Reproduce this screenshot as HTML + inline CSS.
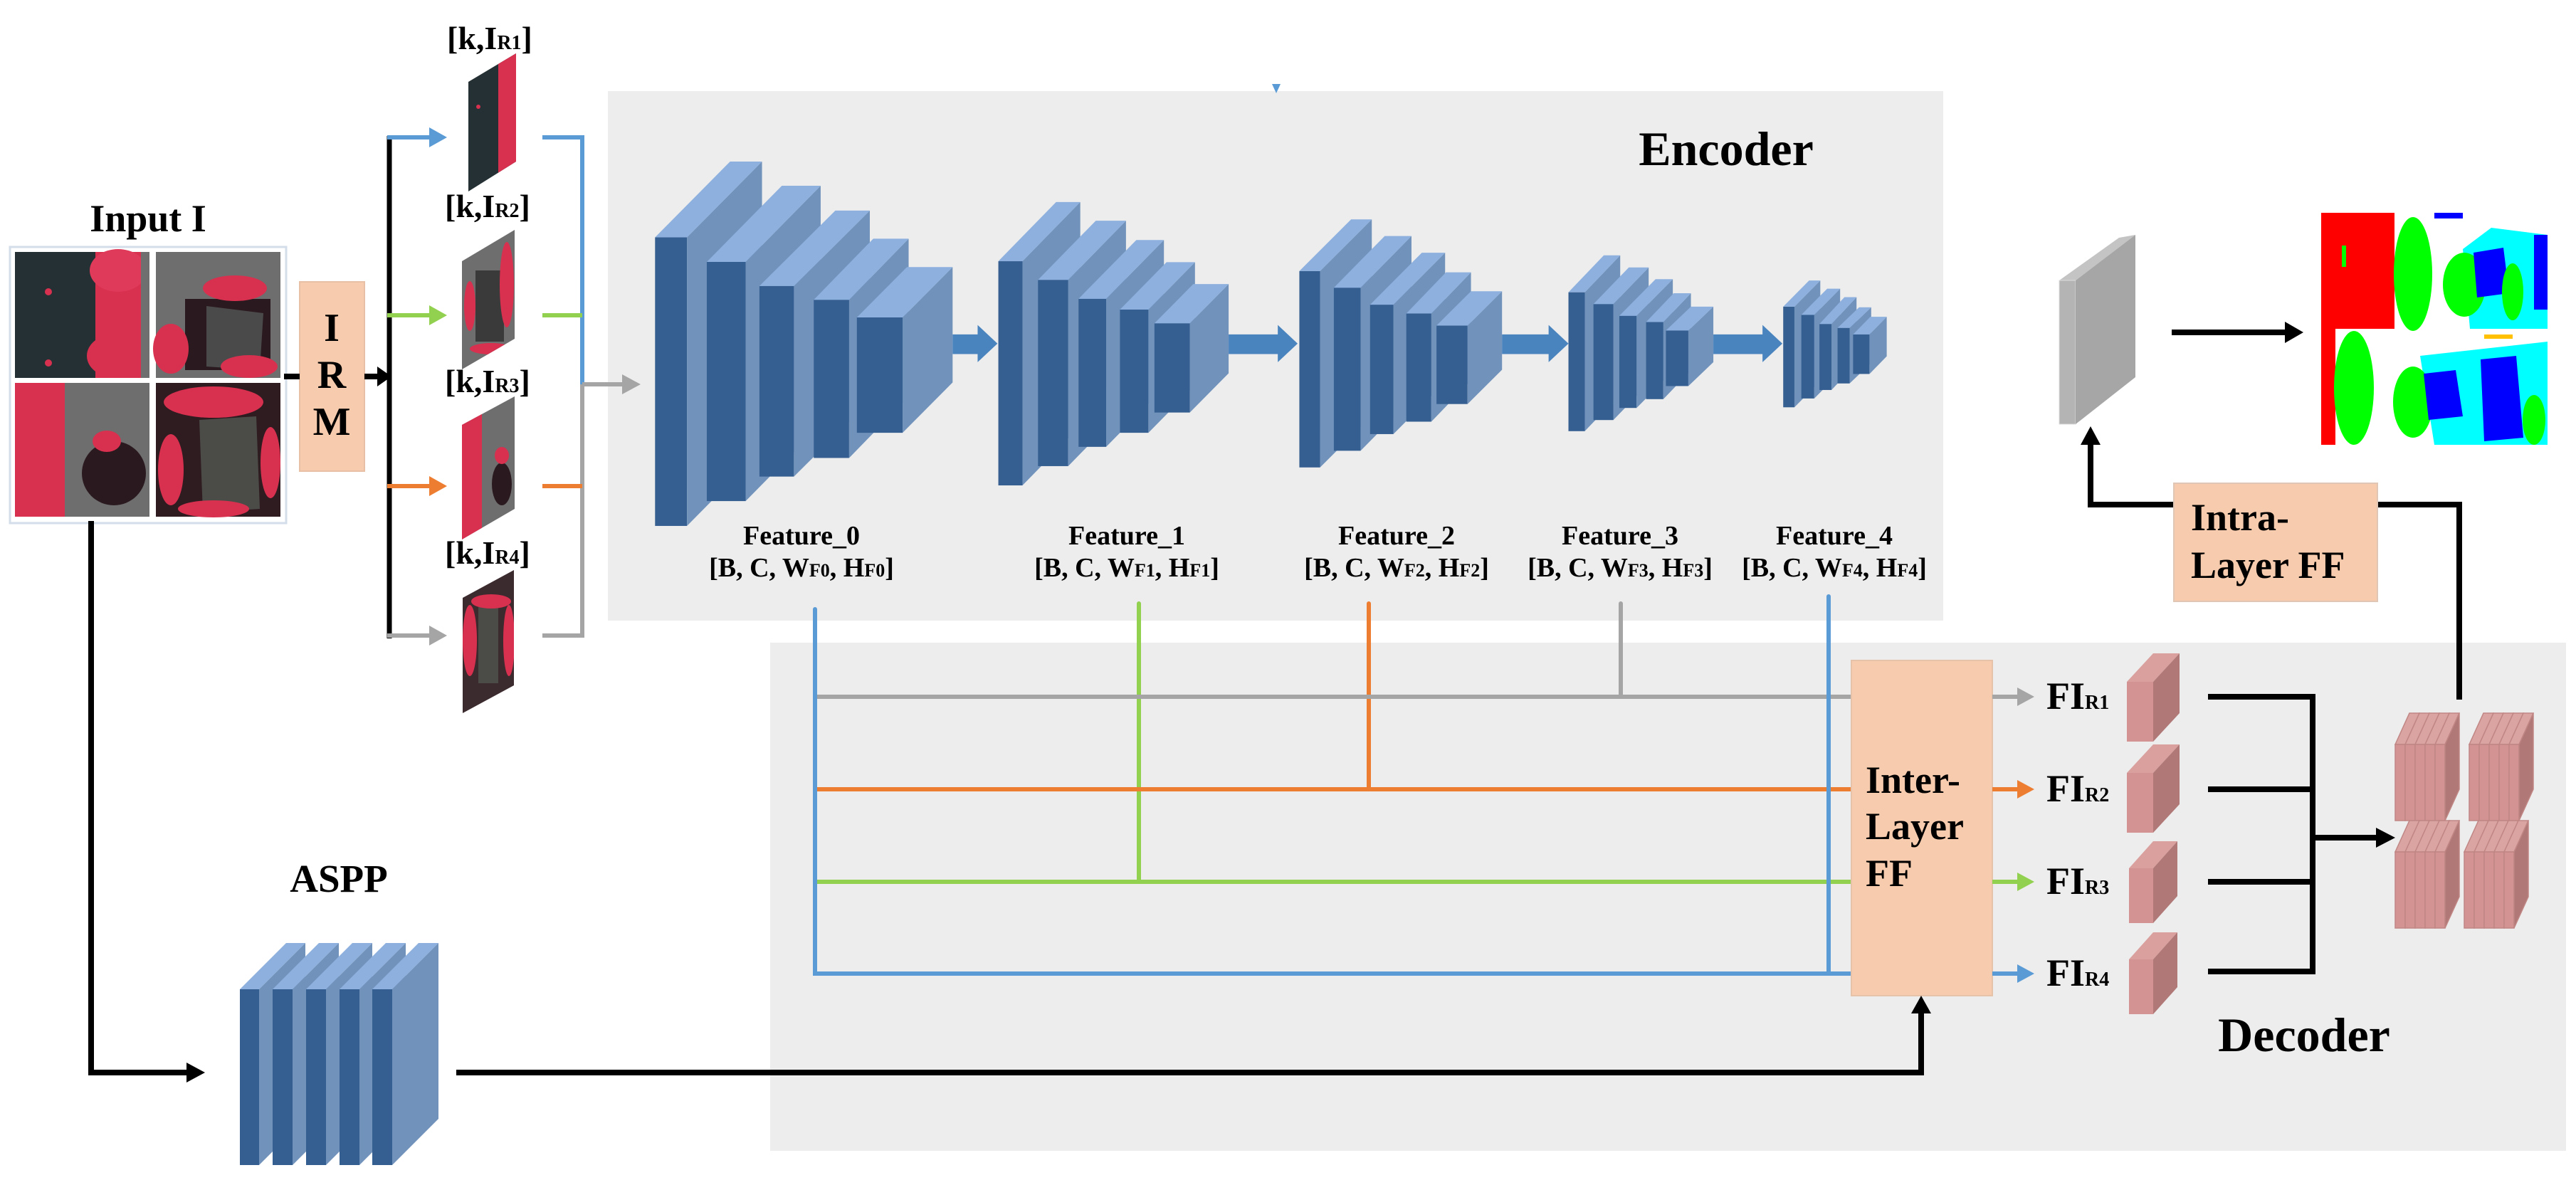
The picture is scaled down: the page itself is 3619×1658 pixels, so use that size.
<!DOCTYPE html>
<html><head><meta charset="utf-8"><style>
html,body{margin:0;padding:0;background:#fff;}
svg{display:block;}
text{font-family:"Liberation Serif","DejaVu Serif",serif;font-weight:bold;fill:#000;}
</style></head><body>
<svg width="3619" height="1658" viewBox="0 0 3619 1658" xmlns="http://www.w3.org/2000/svg">
<defs>
<clipPath id="c1"><polygon points="658,115 725,75 725,227 658,269"/></clipPath>
<clipPath id="c2"><polygon points="649,367 723,323 723,476 649,519"/></clipPath>
<clipPath id="c3"><polygon points="649,597 723,557 723,715 649,758"/></clipPath>
<clipPath id="c4"><polygon points="650,840 722,801 722,963 650,1002"/></clipPath>
</defs>

<rect x="854" y="128" width="1876" height="744" fill="#ededed"/>
<rect x="1082" y="903" width="2523" height="714" fill="#ededed"/>

<rect x="14" y="347" width="388" height="388" fill="#fff" stroke="#d3deea" stroke-width="3"/>
<rect x="21" y="354" width="189" height="177" fill="#243033"/>
<rect x="134" y="354" width="64" height="177" fill="#d8304f"/>
<ellipse cx="166" cy="380" rx="40" ry="30" fill="#e03a5a"/>
<ellipse cx="160" cy="500" rx="38" ry="30" fill="#d8304f"/>
<rect x="198" y="354" width="12" height="177" fill="#6f6f6f"/>
<circle cx="68" cy="410" r="5" fill="#d8304f"/><circle cx="68" cy="510" r="5" fill="#d8304f"/>
<rect x="219" y="354" width="175" height="177" fill="#6e6e6e"/>
<rect x="260" y="420" width="120" height="100" fill="#2a1a1f"/>
<polygon points="290,430 370,440 365,520 290,515" fill="#4a4a4a"/>
<ellipse cx="240" cy="490" rx="25" ry="35" fill="#d8304f"/>
<ellipse cx="330" cy="405" rx="45" ry="18" fill="#d8304f"/>
<ellipse cx="350" cy="515" rx="40" ry="16" fill="#d8304f"/>
<rect x="21" y="538" width="189" height="188" fill="#6e6e6e"/>
<rect x="21" y="538" width="70" height="188" fill="#d8304f"/>
<ellipse cx="160" cy="665" rx="45" ry="45" fill="#2a1a1f"/>
<ellipse cx="150" cy="620" rx="20" ry="15" fill="#d8304f"/>
<rect x="219" y="538" width="175" height="188" fill="#2e1c21"/>
<polygon points="280,590 360,585 365,715 285,720" fill="#4b4b48"/>
<ellipse cx="300" cy="565" rx="70" ry="22" fill="#d8304f"/>
<ellipse cx="240" cy="660" rx="18" ry="50" fill="#d8304f"/>
<ellipse cx="380" cy="650" rx="14" ry="50" fill="#d8304f"/>
<ellipse cx="300" cy="715" rx="50" ry="12" fill="#d8304f"/>

<text x="208" y="325" font-size="54" text-anchor="middle">Input I</text>

<rect x="421" y="396" width="91" height="266" fill="#f7cbad" stroke="#e8c0a5" stroke-width="2"/>
<text x="466" y="479" font-size="56" text-anchor="middle">I</text>
<text x="466" y="545" font-size="56" text-anchor="middle">R</text>
<text x="466" y="611" font-size="56" text-anchor="middle">M</text>
<line x1="399" y1="529" x2="421" y2="529" stroke="#000" stroke-width="8"/>
<line x1="512" y1="529" x2="532" y2="529" stroke="#000" stroke-width="8"/>
<polygon points="530,515 550,529 530,543" fill="#000"/>

<line x1="547" y1="191" x2="547" y2="897" stroke="#000" stroke-width="7"/>
<line x1="544" y1="193" x2="605" y2="193" stroke="#5b9bd5" stroke-width="6"/>
<polygon points="603,179 628,193 603,207" fill="#5b9bd5"/>
<line x1="544" y1="443" x2="605" y2="443" stroke="#92d050" stroke-width="6"/>
<polygon points="603,429 628,443 603,457" fill="#92d050"/>
<line x1="544" y1="683" x2="605" y2="683" stroke="#ed7d31" stroke-width="6"/>
<polygon points="603,669 628,683 603,697" fill="#ed7d31"/>
<line x1="544" y1="893" x2="605" y2="893" stroke="#a5a5a5" stroke-width="6"/>
<polygon points="603,879 628,893 603,907" fill="#a5a5a5"/>

<polyline points="762,193 818,193 818,540" fill="none" stroke="#5b9bd5" stroke-width="6"/>
<polyline points="818,540 818,893 762,893" fill="none" stroke="#a5a5a5" stroke-width="6"/>
<line x1="762" y1="443" x2="818" y2="443" stroke="#92d050" stroke-width="6"/>
<line x1="762" y1="683" x2="818" y2="683" stroke="#ed7d31" stroke-width="6"/>
<line x1="818" y1="540" x2="876" y2="540" stroke="#a5a5a5" stroke-width="6"/>
<polygon points="874,526 900,540 874,554" fill="#a5a5a5"/>

<g clip-path="url(#c1)"><rect x="640" y="70" width="100" height="210" fill="#243033"/><rect x="700" y="70" width="30" height="210" fill="#d8304f"/><circle cx="672" cy="150" r="3" fill="#d8304f"/></g>
<g clip-path="url(#c2)"><rect x="640" y="320" width="100" height="210" fill="#6e6e6e"/><rect x="668" y="380" width="40" height="100" fill="#3a3a3a"/><ellipse cx="712" cy="400" rx="10" ry="60" fill="#d8304f"/><ellipse cx="660" cy="430" rx="8" ry="35" fill="#d8304f"/><ellipse cx="690" cy="490" rx="30" ry="8" fill="#d8304f"/></g>
<g clip-path="url(#c3)"><rect x="640" y="550" width="100" height="220" fill="#6e6e6e"/><rect x="649" y="560" width="28" height="200" fill="#d8304f"/><ellipse cx="705" cy="680" rx="14" ry="30" fill="#2a1a1f"/><ellipse cx="705" cy="640" rx="10" ry="12" fill="#d8304f"/></g>
<g clip-path="url(#c4)"><rect x="640" y="790" width="100" height="220" fill="#3b2a2e"/><rect x="672" y="850" width="28" height="110" fill="#4b4b48"/><ellipse cx="660" cy="900" rx="10" ry="50" fill="#d8304f"/><ellipse cx="715" cy="900" rx="8" ry="50" fill="#d8304f"/><ellipse cx="690" cy="845" rx="28" ry="10" fill="#d8304f"/></g>

<text x="628" y="69" font-size="46">[k,I<tspan font-size="28">R1</tspan>]</text>
<text x="625" y="305" font-size="46">[k,I<tspan font-size="28">R2</tspan>]</text>
<text x="625" y="551" font-size="46">[k,I<tspan font-size="28">R3</tspan>]</text>
<text x="625" y="792" font-size="46">[k,I<tspan font-size="28">R4</tspan>]</text>

<polygon points="1787,118 1799,118 1793,131" fill="#5b9bd5"/>

<g transform="translate(850,120) scale(1.21173,0.45918)">
<rect x="58" y="465" width="37" height="883" fill="#365f91"/><polygon points="95,465 182,233 182,1116 95,1348" fill="#7092bb"/><polygon points="58,465 145,233 182,233 95,465" fill="#8db0de"/>
<rect x="118" y="540" width="45" height="732" fill="#365f91"/><polygon points="163,540 250,307 250,1039 163,1272" fill="#7092bb"/><polygon points="118,540 205,307 250,307 163,540" fill="#8db0de"/>
<rect x="179" y="614" width="40" height="583" fill="#365f91"/><polygon points="219,614 307,383 307,966 219,1197" fill="#7092bb"/><polygon points="179,614 267,383 307,383 219,614" fill="#8db0de"/>
<rect x="242" y="656" width="41" height="484" fill="#365f91"/><polygon points="283,656 352,469 352,953 283,1140" fill="#7092bb"/><polygon points="242,656 311,469 352,469 283,656" fill="#8db0de"/>
<rect x="292" y="710" width="53" height="353" fill="#365f91"/><polygon points="345,710 403,556 403,909 345,1063" fill="#7092bb"/><polygon points="292,710 350,556 403,556 345,710" fill="#8db0de"/>
<rect x="456" y="538" width="28" height="686" fill="#365f91"/><polygon points="484,538 551,357 551,1043 484,1224" fill="#7092bb"/><polygon points="456,538 523,357 551,357 484,538" fill="#8db0de"/>
<rect x="502" y="595" width="35" height="570" fill="#365f91"/><polygon points="537,595 604,414 604,984 537,1165" fill="#7092bb"/><polygon points="502,595 569,414 604,414 537,595" fill="#8db0de"/>
<rect x="549" y="653" width="32" height="453" fill="#365f91"/><polygon points="581,653 648,473 648,926 581,1106" fill="#7092bb"/><polygon points="549,653 616,473 648,473 581,653" fill="#8db0de"/>
<rect x="597" y="686" width="33" height="377" fill="#365f91"/><polygon points="630,686 684,541 684,918 630,1063" fill="#7092bb"/><polygon points="597,686 651,541 684,541 630,686" fill="#8db0de"/>
<rect x="637" y="728" width="41" height="273" fill="#365f91"/><polygon points="678,728 723,608 723,881 678,1001" fill="#7092bb"/><polygon points="637,728 682,608 723,608 678,728" fill="#8db0de"/>
<rect x="805" y="568" width="24" height="601" fill="#365f91"/><polygon points="829,568 889,410 889,1011 829,1169" fill="#7092bb"/><polygon points="805,568 865,410 889,410 829,568" fill="#8db0de"/>
<rect x="845" y="619" width="31" height="499" fill="#365f91"/><polygon points="876,619 935,461 935,960 876,1118" fill="#7092bb"/><polygon points="845,619 904,461 935,461 876,619" fill="#8db0de"/>
<rect x="887" y="671" width="27" height="396" fill="#365f91"/><polygon points="914,671 974,512 974,908 914,1067" fill="#7092bb"/><polygon points="887,671 947,512 974,512 914,671" fill="#8db0de"/>
<rect x="929" y="698" width="29" height="331" fill="#365f91"/><polygon points="958,698 1004,572 1004,903 958,1029" fill="#7092bb"/><polygon points="929,698 975,572 1004,572 958,698" fill="#8db0de"/>
<rect x="964" y="735" width="36" height="240" fill="#365f91"/><polygon points="1000,735 1040,630 1040,870 1000,975" fill="#7092bb"/><polygon points="964,735 1004,630 1040,630 1000,735" fill="#8db0de"/>
<rect x="1117" y="633" width="19" height="425" fill="#365f91"/><polygon points="1136,633 1177,520 1177,945 1136,1058" fill="#7092bb"/><polygon points="1117,633 1158,520 1177,520 1136,633" fill="#8db0de"/>
<rect x="1146" y="669" width="23" height="355" fill="#365f91"/><polygon points="1169,669 1210,557 1210,912 1169,1024" fill="#7092bb"/><polygon points="1146,669 1187,557 1210,557 1169,669" fill="#8db0de"/>
<rect x="1176" y="705" width="20" height="282" fill="#365f91"/><polygon points="1196,705 1238,593 1238,875 1196,987" fill="#7092bb"/><polygon points="1176,705 1218,593 1238,593 1196,705" fill="#8db0de"/>
<rect x="1207" y="724" width="20" height="236" fill="#365f91"/><polygon points="1227,724 1259,636 1259,872 1227,960" fill="#7092bb"/><polygon points="1207,724 1239,636 1259,636 1227,724" fill="#8db0de"/>
<rect x="1230" y="750" width="26" height="170" fill="#365f91"/><polygon points="1256,750 1285,677 1285,847 1256,920" fill="#7092bb"/><polygon points="1230,750 1259,677 1285,677 1256,750" fill="#8db0de"/>
<rect x="1366" y="677" width="13" height="308" fill="#365f91"/><polygon points="1379,677 1409,597 1409,905 1379,985" fill="#7092bb"/><polygon points="1366,677 1396,597 1409,597 1379,677" fill="#8db0de"/>
<rect x="1387" y="702" width="15" height="256" fill="#365f91"/><polygon points="1402,702 1432,622 1432,878 1402,958" fill="#7092bb"/><polygon points="1387,702 1417,622 1432,622 1402,702" fill="#8db0de"/>
<rect x="1408" y="730" width="14" height="202" fill="#365f91"/><polygon points="1422,730 1451,648 1451,850 1422,932" fill="#7092bb"/><polygon points="1408,730 1437,648 1451,648 1422,730" fill="#8db0de"/>
<rect x="1429" y="742" width="14" height="170" fill="#365f91"/><polygon points="1443,742 1468,679 1468,849 1443,912" fill="#7092bb"/><polygon points="1429,742 1454,679 1468,679 1443,742" fill="#8db0de"/>
<rect x="1447" y="762" width="19" height="121" fill="#365f91"/><polygon points="1466,762 1486,708 1486,829 1466,883" fill="#7092bb"/><polygon points="1447,762 1467,708 1486,708 1466,762" fill="#8db0de"/>
<g fill="#4a84bf">
<polygon points="403,762 432,762 432,733 455,790 432,847 432,822 403,822"/>
<polygon points="723,762 780,762 780,733 803,790 780,847 780,822 723,822"/>
<polygon points="1040,762 1094,762 1094,733 1117,790 1094,847 1094,822 1040,822"/>
<polygon points="1285,762 1342,762 1342,733 1365,790 1342,847 1342,822 1285,822"/>
</g>
</g>

<text x="2425" y="232" font-size="68" text-anchor="middle">Encoder</text>

<g font-size="38" text-anchor="middle">
<text x="1126" y="765">Feature_0</text>
<text x="1126" y="810">[B, C, W<tspan font-size="26">F0</tspan>, H<tspan font-size="26">F0</tspan>]</text>
<text x="1583" y="765">Feature_1</text>
<text x="1583" y="810">[B, C, W<tspan font-size="26">F1</tspan>, H<tspan font-size="26">F1</tspan>]</text>
<text x="1962" y="765">Feature_2</text>
<text x="1962" y="810">[B, C, W<tspan font-size="26">F2</tspan>, H<tspan font-size="26">F2</tspan>]</text>
<text x="2276" y="765">Feature_3</text>
<text x="2276" y="810">[B, C, W<tspan font-size="26">F3</tspan>, H<tspan font-size="26">F3</tspan>]</text>
<text x="2577" y="765">Feature_4</text>
<text x="2577" y="810">[B, C, W<tspan font-size="26">F4</tspan>, H<tspan font-size="26">F4</tspan>]</text>
</g>

<g fill="none" stroke-width="6" stroke-linecap="round">
<line x1="1600" y1="848" x2="1600" y2="1239" stroke="#92d050"/>
<line x1="1923" y1="848" x2="1923" y2="1109" stroke="#ed7d31"/>
<line x1="2277" y1="848" x2="2277" y2="979" stroke="#a5a5a5"/>
<line x1="1145" y1="979" x2="2610" y2="979" stroke="#a5a5a5"/>
<line x1="1145" y1="1109" x2="2610" y2="1109" stroke="#ed7d31"/>
<line x1="1145" y1="1239" x2="2610" y2="1239" stroke="#92d050"/>
<polyline points="1145,856 1145,1368 2610,1368" stroke="#5b9bd5"/>
<line x1="2569" y1="838" x2="2569" y2="1368" stroke="#5b9bd5"/>
</g>

<rect x="2601" y="928" width="198" height="471" fill="#f7cbad" stroke="#e6c2a8" stroke-width="2"/>
<text x="2621" y="1114" font-size="54">Inter-</text>
<text x="2621" y="1179" font-size="54">Layer</text>
<text x="2621" y="1245" font-size="54">FF</text>

<g stroke-width="6">
<line x1="2799" y1="979" x2="2838" y2="979" stroke="#a5a5a5"/>
<line x1="2799" y1="1109" x2="2838" y2="1109" stroke="#ed7d31"/>
<line x1="2799" y1="1239" x2="2838" y2="1239" stroke="#92d050"/>
<line x1="2799" y1="1368" x2="2838" y2="1368" stroke="#5b9bd5"/>
</g>
<polygon points="2834,966 2858,979 2834,992" fill="#a5a5a5"/>
<polygon points="2834,1096 2858,1109 2834,1122" fill="#ed7d31"/>
<polygon points="2834,1226 2858,1239 2834,1252" fill="#92d050"/>
<polygon points="2834,1355 2858,1368 2834,1381" fill="#5b9bd5"/>

<g font-size="54">
<text x="2875" y="996">FI<tspan font-size="28">R1</tspan></text>
<text x="2875" y="1126">FI<tspan font-size="28">R2</tspan></text>
<text x="2875" y="1256">FI<tspan font-size="28">R3</tspan></text>
<text x="2875" y="1385">FI<tspan font-size="28">R4</tspan></text>
</g>

<g>
<polygon points="2988,958 3025,918 3062,918 3025,958" fill="#d9a09e"/><rect x="2988" y="958" width="37" height="84" fill="#d39392"/><polygon points="3025,958 3062,918 3062,1002 3025,1042" fill="#b07876"/>
<polygon points="2988,1086 3025,1046 3062,1046 3025,1086" fill="#d9a09e"/><rect x="2988" y="1086" width="37" height="84" fill="#d39392"/><polygon points="3025,1086 3062,1046 3062,1130 3025,1170" fill="#b07876"/>
<polygon points="2991,1220 3025,1182 3059,1182 3025,1220" fill="#d9a09e"/><rect x="2991" y="1220" width="34" height="77" fill="#d39392"/><polygon points="3025,1220 3059,1182 3059,1259 3025,1297" fill="#b07876"/>
<polygon points="2991,1348 3025,1310 3059,1310 3025,1348" fill="#d9a09e"/><rect x="2991" y="1348" width="34" height="77" fill="#d39392"/><polygon points="3025,1348 3059,1310 3059,1387 3025,1425" fill="#b07876"/>
</g>

<g stroke="#000" stroke-width="8" fill="none">
<line x1="3102" y1="979" x2="3249" y2="979"/>
<line x1="3102" y1="1109" x2="3249" y2="1109"/>
<line x1="3102" y1="1239" x2="3249" y2="1239"/>
<line x1="3102" y1="1365" x2="3249" y2="1365"/>
<line x1="3249" y1="975" x2="3249" y2="1369"/>
<line x1="3249" y1="1177" x2="3340" y2="1177"/>
</g>
<polygon points="3338,1163 3365,1177 3338,1191" fill="#000"/>

<g id="stk">
<g stroke="#c08684" stroke-width="1.5">
<polygon points="3365,1046 3385,1002 3399,1002 3379,1046" fill="#daa4a2"/><rect x="3365" y="1046" width="14" height="107" fill="#d39392"/>
<polygon points="3379,1046 3399,1002 3413,1002 3393,1046" fill="#daa4a2"/><rect x="3379" y="1046" width="14" height="107" fill="#d39392"/>
<polygon points="3393,1046 3413,1002 3427,1002 3407,1046" fill="#daa4a2"/><rect x="3393" y="1046" width="14" height="107" fill="#d39392"/>
<polygon points="3407,1046 3427,1002 3441,1002 3421,1046" fill="#daa4a2"/><rect x="3407" y="1046" width="14" height="107" fill="#d39392"/>
<polygon points="3421,1046 3441,1002 3455,1002 3435,1046" fill="#daa4a2"/><rect x="3421" y="1046" width="14" height="107" fill="#d39392"/>
<polygon points="3435,1046 3455,1002 3455,1109 3435,1153" fill="#b07876"/>
</g>
</g>
<use href="#stk" transform="translate(104,0)"/>
<use href="#stk" transform="translate(0,151)"/>
<use href="#stk" transform="translate(97,151)"/>

<polyline points="3455,983 3455,709 3340,709" fill="none" stroke="#000" stroke-width="8"/>
<polyline points="3054,709 2937,709 2937,622" fill="none" stroke="#000" stroke-width="8"/>
<polygon points="2923,625 2937,599 2951,625" fill="#000"/>
<rect x="3054" y="679" width="286" height="166" fill="#f7cbad" stroke="#e0c6b4" stroke-width="2"/>
<text x="3078" y="745" font-size="54">Intra-</text>
<text x="3078" y="812" font-size="54">Layer FF</text>

<polygon points="2893,394 2977,334 3000,330 2916,394" fill="#c4c4c4"/>
<rect x="2893" y="394" width="23" height="202" fill="#b4b4b4" stroke="#ddd" stroke-width="1"/>
<polygon points="2916,394 3000,330 3000,530 2916,596" fill="#a6a6a6"/>

<line x1="3051" y1="467" x2="3212" y2="467" stroke="#000" stroke-width="8"/>
<polygon points="3210,452 3236,467 3210,482" fill="#000"/>

<rect x="3261" y="299" width="318" height="326" fill="#fff"/>
<rect x="3261" y="299" width="103" height="163" fill="#ff0000"/>
<ellipse cx="3390" cy="385" rx="27" ry="80" fill="#00ff00"/>
<rect x="3290" y="345" width="6" height="30" fill="#00ff00"/>
<polygon points="3460,350 3500,320 3579,330 3579,462 3470,462" fill="#00ffff"/>
<ellipse cx="3462" cy="400" rx="30" ry="45" fill="#00ff00"/>
<polygon points="3475,355 3517,348 3525,412 3480,418" fill="#0000ff"/>
<ellipse cx="3530" cy="410" rx="15" ry="40" fill="#00ff00"/>
<rect x="3560" y="330" width="19" height="105" fill="#0000ff"/>
<rect x="3420" y="299" width="40" height="8" fill="#0000ff"/>
<rect x="3261" y="462" width="20" height="163" fill="#ff0000"/>
<ellipse cx="3307" cy="545" rx="28" ry="80" fill="#00ff00"/>
<polygon points="3400,500 3579,480 3579,625 3420,625" fill="#00ffff"/>
<ellipse cx="3390" cy="565" rx="28" ry="50" fill="#00ff00"/>
<polygon points="3405,525 3450,520 3460,585 3412,590" fill="#0000ff"/>
<polygon points="3485,505 3535,500 3545,615 3490,620" fill="#0000ff"/>
<ellipse cx="3560" cy="590" rx="16" ry="35" fill="#00ff00"/>
<rect x="3490" y="470" width="40" height="6" fill="#ffc000"/>

<polyline points="128,732 128,1507 265,1507" fill="none" stroke="#000" stroke-width="8"/>
<polygon points="262,1493 288,1507 262,1521" fill="#000"/>
<text x="476" y="1253" font-size="55" text-anchor="middle">ASPP</text>

<g>
<polygon points="337,1390 402,1325 429,1325 364,1390" fill="#8db0de"/><rect x="337" y="1390" width="27" height="247" fill="#365f91"/><polygon points="364,1390 429,1325 429,1572 364,1637" fill="#7092bb"/>
<polygon points="383,1390 448,1325 476,1325 411,1390" fill="#8db0de"/><rect x="383" y="1390" width="28" height="247" fill="#365f91"/><polygon points="411,1390 476,1325 476,1572 411,1637" fill="#7092bb"/>
<polygon points="430,1390 495,1325 523,1325 458,1390" fill="#8db0de"/><rect x="430" y="1390" width="28" height="247" fill="#365f91"/><polygon points="458,1390 523,1325 523,1572 458,1637" fill="#7092bb"/>
<polygon points="477,1390 542,1325 570,1325 505,1390" fill="#8db0de"/><rect x="477" y="1390" width="28" height="247" fill="#365f91"/><polygon points="505,1390 570,1325 570,1572 505,1637" fill="#7092bb"/>
<polygon points="523,1390 588,1325 616,1325 551,1390" fill="#8db0de"/><rect x="523" y="1390" width="28" height="247" fill="#365f91"/><polygon points="551,1390 616,1325 616,1572 551,1637" fill="#7092bb"/>
</g>

<polyline points="641,1507 2699,1507 2699,1422" fill="none" stroke="#000" stroke-width="8"/>
<polygon points="2685,1424 2699,1399 2713,1424" fill="#000"/>

<text x="3237" y="1477" font-size="68" text-anchor="middle">Decoder</text>
</svg>
</body></html>
